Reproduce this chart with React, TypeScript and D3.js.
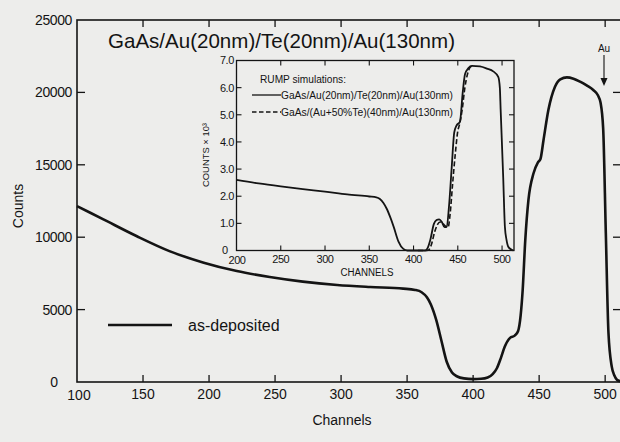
import React from "react";
import * as d3 from "d3";

// Main spectrum: as-deposited sample
const mainChannels = [
  100, 120, 145, 170, 196, 221, 246, 271, 297, 322, 347, 356, 361, 365, 368, 372, 376, 380, 384, 388,
  393, 400, 406, 411, 415, 418, 421, 424, 428, 431.5, 434, 436, 437.5, 439.5, 441.9, 445.7, 449, 451,
  453.3, 457, 462, 466, 471, 476, 481, 486, 491, 494.5, 496.5, 498.5, 500.5, 502.5, 505, 507, 509, 512,
];
const mainCounts = [
  12150, 11230, 10080, 9040, 8240, 7660, 7250, 6930, 6700, 6560, 6450, 6360, 6200, 5850, 5350, 4300,
  2850, 1400, 650, 380, 250, 200, 220, 310, 560, 950, 1650, 2450, 3050, 3200, 3500, 4600, 6300, 9800,
  12570, 14400, 15150, 15400, 16700, 18780, 20390, 20900, 21040, 20950, 20740, 20480, 20170, 19800,
  19300, 17500, 10300, 3400, 1060, 450, 150, 50,
];

// Inset: RUMP simulation, GaAs/Au(20nm)/Te(20nm)/Au(130nm)
const insetSolidChannels = [
  200, 225, 250, 275, 300, 325, 350, 358, 362, 366, 370, 374, 377.5, 383, 388.5, 393, 413, 416, 419,
  423, 426, 429, 432, 435, 437.5, 440, 443, 446, 448.5, 452.5, 455.5, 458.2, 462, 466, 475, 483, 490,
  495.7, 497.5, 498.4, 501.3, 503.2, 505, 507, 510.8, 513,
];
const insetSolidCounts = [
  2.6, 2.47, 2.36, 2.26, 2.17, 2.07, 1.99, 1.96, 1.9, 1.75, 1.52, 1.2, 0.88, 0.33, 0.06, 0.0, 0.0, 0.1,
  0.4, 0.98, 1.12, 1.15, 1.05, 0.86, 0.88, 1.6, 3.0, 4.35, 4.6, 4.75, 5.8, 6.5, 6.72, 6.8, 6.78, 6.7,
  6.6, 6.4, 6.0, 5.2, 2.7, 0.88, 0.4, 0.14, 0.03, 0,
];

// Inset: RUMP simulation, GaAs/(Au+50%Te)(40nm)/Au(130nm) (where it departs from the solid curve)
const insetDashedChannels = [
  405, 413, 417, 420, 424, 427, 430, 433, 436, 439, 441.5, 444, 447, 450, 452, 455, 458, 461, 464, 467,
];
const insetDashedCounts = [
  0.0, 0.0, 0.02, 0.2, 0.7, 0.95, 1.05, 1.0, 0.9, 0.85, 1.4, 2.4, 3.5, 4.4, 4.65, 5.2, 6.0, 6.5, 6.75,
  6.8,
];

const mainXTicks = [100, 150, 200, 250, 300, 350, 400, 450, 500];
const mainYTicks = [0, 5000, 10000, 15000, 20000, 25000];
const insetXTicks = [200, 250, 300, 350, 400, 450, 500];
const insetYTicks = [0, 1, 2, 3, 4, 5, 6, 7];

const title = "GaAs/Au(20nm)/Te(20nm)/Au(130nm)";
const insetHeader = "RUMP simulations:";
const insetSolidLabel = "GaAs/Au(20nm)/Te(20nm)/Au(130nm)";
const insetDashedLabel = "GaAs/(Au+50%Te)(40nm)/Au(130nm)";
const legendLabel = "as-deposited";

const FONT = "'Liberation Sans', Arial, sans-serif";
const INK = "#141414";
const PAPER = "#ededeb";

export default function App() {
  const W = 620;
  const H = 442;

  const x = d3.scaleLinear().domain([100, 512]).range([77, 621]);
  const y = d3.scaleLinear().domain([0, 25000]).range([382, 20]);

  const xi = d3.scaleLinear().domain([200, 513.5]).range([236.5, 514]);
  const yi = d3.scaleLinear().domain([0, 7]).range([250.5, 60.5]);

  const mainLine = d3
    .line<number>()
    .x((c) => x(c))
    .y((_, i) => y(mainCounts[i]))
    .curve(d3.curveMonotoneX);

  const solidLine = d3
    .line<number>()
    .x((c) => xi(c))
    .y((_, i) => yi(insetSolidCounts[i]))
    .curve(d3.curveMonotoneX);

  const dashedLine = d3
    .line<number>()
    .x((c) => xi(c))
    .y((_, i) => yi(insetDashedCounts[i]))
    .curve(d3.curveMonotoneX);

  const [x0, x1] = x.range();
  const [yb, yt] = y.range();
  const [ix0, ix1] = xi.range();
  const [iyb, iyt] = yi.range();

  return (
    <svg
      width={W}
      height={H}
      viewBox={`0 0 ${W} ${H}`}
      style={{ position: "absolute", left: 0, top: 0, display: "block" }}
      fontFamily={FONT}
    >
      <rect x={0} y={0} width={W} height={H} fill={PAPER} />

      {/* main frame */}
      <rect
        x={x0}
        y={yt}
        width={x1 - x0}
        height={yb - yt}
        fill="none"
        stroke={INK}
        strokeWidth={1.6}
      />

      {/* main x ticks (bottom and top, pointing inward) */}
      {mainXTicks.slice(1).map((t) => (
        <g key={`mx${t}`}>
          <line x1={x(t)} x2={x(t)} y1={yb} y2={yb - 7} stroke={INK} strokeWidth={1.3} />
          <line x1={x(t)} x2={x(t)} y1={yt} y2={yt + 7} stroke={INK} strokeWidth={1.3} />
          <text x={x(t)} y={399} fontSize={14} textAnchor="middle" fill={INK}>
            {t}
          </text>
        </g>
      ))}
      <text x={79} y={400} fontSize={14} textAnchor="middle" fill={INK}>
        {mainXTicks[0]}
      </text>

      {/* main y ticks (left and right, pointing inward) */}
      {mainYTicks.slice(1, -1).map((t) => (
        <g key={`my${t}`}>
          <line x1={x0} x2={x0 + 8} y1={y(t)} y2={y(t)} stroke={INK} strokeWidth={1.3} />
          <line x1={x1} x2={x1 - 8} y1={y(t)} y2={y(t)} stroke={INK} strokeWidth={1.3} />
        </g>
      ))}
      {mainYTicks.slice(1).map((t) => (
        <text
          key={`myl${t}`}
          x={72}
          y={y(t)}
          dy="0.36em"
          fontSize={14}
          textAnchor="end"
          fill={INK}
          letterSpacing={-0.4}
        >
          {t}
        </text>
      ))}
      <text x={58} y={387} fontSize={14} textAnchor="end" fill={INK}>
        {mainYTicks[0]}
      </text>

      {/* axis titles */}
      <text x={342} y={425} fontSize={14} textAnchor="middle" fill={INK}>
        Channels
      </text>
      <text
        transform="translate(23,206) rotate(-90)"
        fontSize={14}
        textAnchor="middle"
        fill={INK}
      >
        Counts
      </text>

      {/* title */}
      <text
        x={108}
        y={48}
        fontSize={21}
        fill={INK}
        textLength={347}
        lengthAdjust="spacingAndGlyphs"
      >
        {title}
      </text>

      {/* Au surface edge marker */}
      <text x={604} y={52} fontSize={10} textAnchor="middle" fill={INK}>
        Au
      </text>
      <line x1={604} x2={604} y1={55} y2={84} stroke={INK} strokeWidth={1.1} />
      <path d="M600.5,78 L604,86 L607.5,78 Z" fill={INK} />

      {/* main spectrum */}
      <path d={mainLine(mainChannels) ?? ""} fill="none" stroke={INK} strokeWidth={2.6} strokeLinejoin="round" />

      {/* legend */}
      <line x1={108} x2={172} y1={325} y2={325} stroke={INK} strokeWidth={2.6} />
      <text x={188} y={331} fontSize={16} fill={INK}>
        {legendLabel}
      </text>

      {/* inset */}
      <rect
        x={ix0}
        y={iyt}
        width={ix1 - ix0}
        height={iyb - iyt}
        fill={PAPER}
        stroke={INK}
        strokeWidth={1.3}
      />
      {insetXTicks.slice(1).map((t) => (
        <g key={`ix${t}`}>
          <line x1={xi(t)} x2={xi(t)} y1={iyb} y2={iyb - 5} stroke={INK} strokeWidth={1.1} />
          <line x1={xi(t)} x2={xi(t)} y1={iyt} y2={iyt + 5} stroke={INK} strokeWidth={1.1} />
          <text x={xi(t)} y={263} fontSize={11} textAnchor="middle" fill={INK} letterSpacing={-0.5}>
            {t}
          </text>
        </g>
      ))}
      <text x={237} y={264} fontSize={11} textAnchor="middle" fill={INK} letterSpacing={-0.5}>
        {insetXTicks[0]}
      </text>
      {insetYTicks.slice(1, -1).map((t) => (
        <g key={`iy${t}`}>
          <line x1={ix0} x2={ix0 + 5} y1={yi(t)} y2={yi(t)} stroke={INK} strokeWidth={1.1} />
          <line x1={ix1} x2={ix1 - 5} y1={yi(t)} y2={yi(t)} stroke={INK} strokeWidth={1.1} />
        </g>
      ))}
      {insetYTicks.slice(1).map((t) => (
        <text
          key={`iyl${t}`}
          x={234}
          y={yi(t)}
          dy="0.36em"
          fontSize={11}
          textAnchor="end"
          fill={INK}
          letterSpacing={-0.4}
        >
          {t.toFixed(1)}
        </text>
      ))}
      <text x={228} y={254} fontSize={11} textAnchor="end" fill={INK}>
        {insetYTicks[0]}
      </text>

      <text x={367} y={276} fontSize={10} textAnchor="middle" fill={INK} textLength={53} lengthAdjust="spacingAndGlyphs">
        CHANNELS
      </text>
      <text
        transform="translate(209,155) rotate(-90)"
        fontSize={9.5}
        textAnchor="middle"
        fill={INK}
        textLength={64}
        lengthAdjust="spacingAndGlyphs"
      >
        COUNTS × 10³
      </text>

      <text x={260} y={83} fontSize={10} fill={INK} textLength={86} lengthAdjust="spacingAndGlyphs">
        {insetHeader}
      </text>
      <line x1={252} x2={281} y1={95} y2={95} stroke={INK} strokeWidth={1.3} />
      <text x={281} y={98.5} fontSize={10} fill={INK} textLength={172} lengthAdjust="spacingAndGlyphs">
        {insetSolidLabel}
      </text>
      <line
        x1={252}
        x2={281}
        y1={112}
        y2={112}
        stroke={INK}
        strokeWidth={1.3}
        strokeDasharray="4.5,2.5"
      />
      <text x={281} y={115.5} fontSize={10} fill={INK} textLength={172} lengthAdjust="spacingAndGlyphs">
        {insetDashedLabel}
      </text>

      <path
        d={solidLine(insetSolidChannels) ?? ""}
        fill="none"
        stroke={INK}
        strokeWidth={1.8}
        strokeLinejoin="round"
      />
      <path
        d={dashedLine(insetDashedChannels) ?? ""}
        fill="none"
        stroke={INK}
        strokeWidth={1.6}
        strokeDasharray="5,2.5"
      />
    </svg>
  );
}
